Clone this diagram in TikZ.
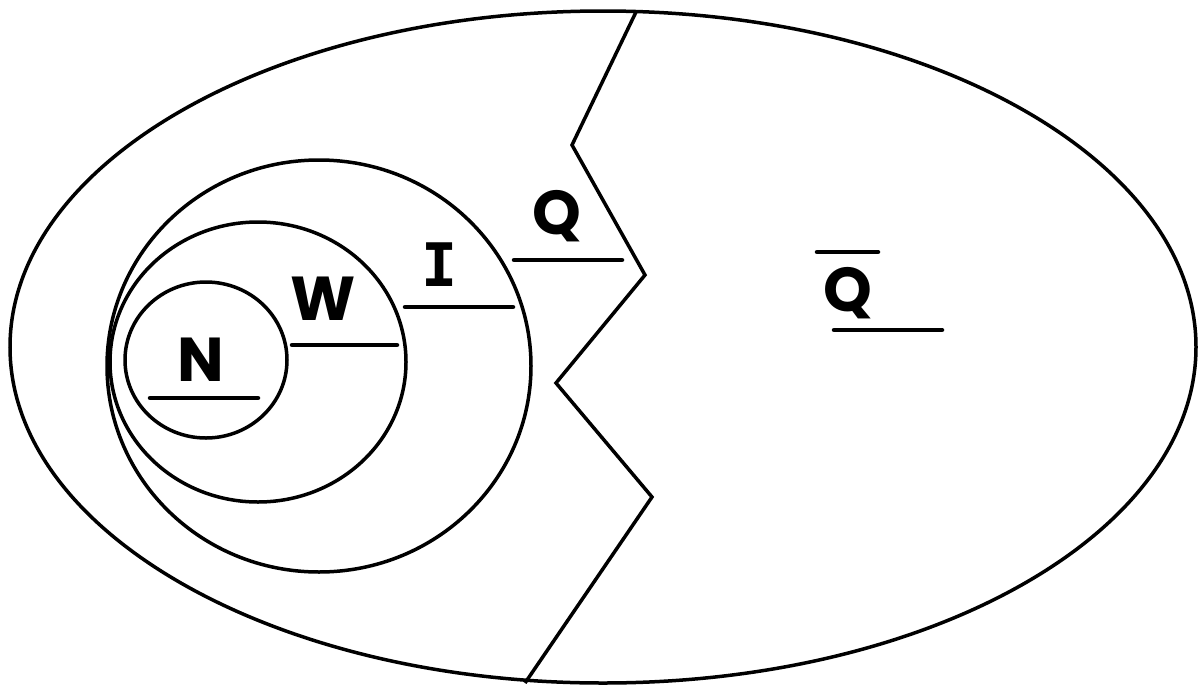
\documentclass[tikz,border=0pt]{standalone}
\usepackage{fontspec}
\setmainfont{Poppins}
\newfontfamily\slabI{DejaVu Sans Mono}
\begin{document}
\begin{tikzpicture}[x=1pt,y=-1pt,
  setline/.style={line width=3.5pt},
  bar/.style={line width=4.5pt,line cap=round},
  lbl/.style={inner sep=0pt,font=\fontsize{62}{62}\selectfont\bfseries}]
\useasboundingbox (0,0) rectangle (1203,686);
% outer ellipse
\draw[setline] (603,347) ellipse [x radius=593, y radius=336];
% nested sets
\draw[setline] (319,366) ellipse [x radius=212, y radius=206];
\draw[setline] (258,362) ellipse [x radius=148, y radius=140];
\draw[setline] (206,360) ellipse [x radius=81, y radius=78];
% zigzag boundary
\draw[setline,line join=miter] (636,12) -- (572,145) -- (645,275) -- (556,383) -- (652,497) -- (525,683);
% labels
\node[lbl] (N) at (201,360) {N};
\node[lbl] (W) at (323,299) {W};
\node[lbl,font=\fontsize{60}{60}\selectfont\slabI\bfseries] (I) at (440,265) {I};
\node[lbl,anchor=north] (Q) at (557,190) {Q};
\node[lbl,anchor=north] (Qb) at (848,267) {Q};
% underlines
\draw[bar] (150,398) -- (258,398);
\draw[bar] (292,345) -- (397,345);
\draw[bar] (405,307) -- (513,307);
\draw[bar] (514,260) -- (622,260);
\draw[bar] (817,252) -- (878,252);
\draw[bar] (834,330) -- (942,330);
\end{tikzpicture}
\end{document}
